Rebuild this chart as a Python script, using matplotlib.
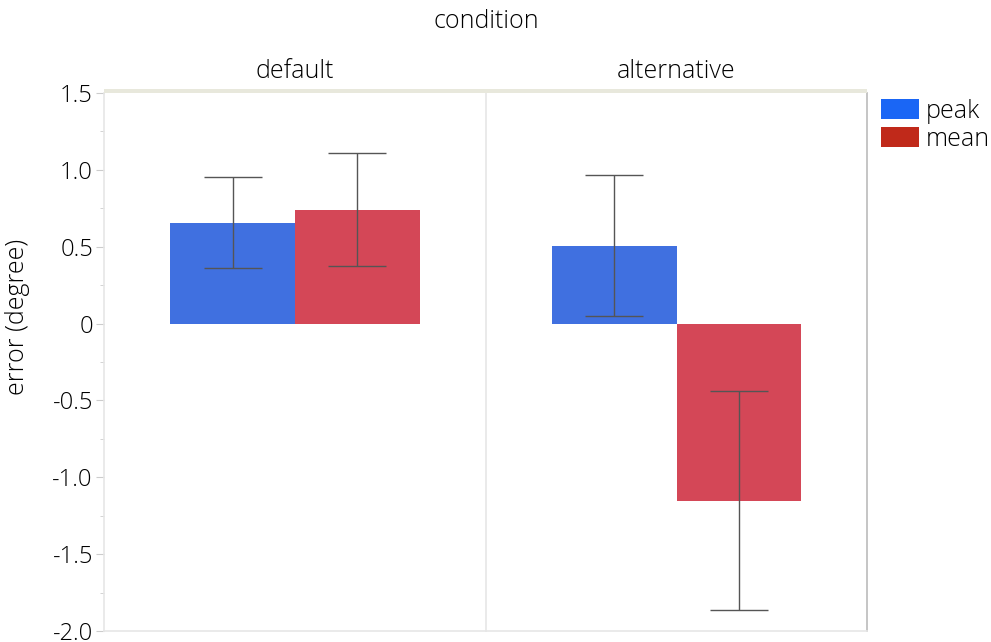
import matplotlib
matplotlib.use("Agg")
import matplotlib.pyplot as plt
from matplotlib.patches import Patch
import numpy as np

plt.rcParams['font.family'] = ['Open Sans', 'DejaVu Sans']
plt.rcParams['font.weight'] = 'light'
plt.rcParams['axes.titleweight'] = 'light'
plt.rcParams['text.color'] = '#000000'
plt.rcParams['axes.labelcolor'] = '#000000'
plt.rcParams['ytick.labelcolor'] = '#000000'

conditions = ["default", "alternative"]
series = ["peak", "mean"]
values = {"default": [0.657, 0.742], "alternative": [0.507, -1.152]}
errors = {"default": [0.295, 0.37], "alternative": [0.458, 0.712]}
bar_colors = ["#4070e0", "#d44757"]
legend_colors = ["#1a66f5", "#c0291a"]
yticks = [1.5, 1.0, 0.5, 0, -0.5, -1.0, -1.5, -2.0]
ytick_labels = ["1.5", "1.0", "0.5", "0", "-0.5", "-1.0", "-1.5", "-2.0"]

W, H = 991, 642
fig = plt.figure(figsize=(W / 100, H / 100), dpi=100)

left_px, right_px, top_px, bot_px = 104, 867, 93, 631
mid_px = 486
bottom = 1 - bot_px / H
height = (bot_px - top_px) / H

FS = 18
TFS = 17
axes = []
for i, cond in enumerate(conditions):
    x0 = left_px if i == 0 else mid_px
    x1 = mid_px if i == 0 else right_px
    ax = fig.add_axes([x0 / W, bottom, (x1 - x0) / W, height])
    axes.append(ax)
    bw = 0.326
    xs = [0.5 - bw / 2, 0.5 + bw / 2]
    for j, s in enumerate(series):
        ax.bar(xs[j], values[cond][j], width=bw, color=bar_colors[j], zorder=2)
        ax.errorbar(xs[j], values[cond][j], yerr=errors[cond][j], fmt='none',
                    ecolor="#555555", elinewidth=1.0, capsize=21, capthick=1.0, zorder=3)
    ax.set_xlim(0, 1)
    ax.set_ylim(-2.0, 1.5)
    ax.set_xticks([])
    for sp in ax.spines.values():
        sp.set_color("#e6e6e6")
        sp.set_linewidth(1.2)
    ax.spines['top'].set_visible(False)
    ax.set_title(cond, fontsize=FS, pad=11, fontweight='light')
    if i == 0:
        ax.set_yticks(yticks)
        ax.set_yticklabels(ytick_labels, fontsize=TFS)
        ax.set_yticks(np.arange(-1.75, 1.5, 0.5), minor=True)
        ax.tick_params(axis='y', which='major', length=6, color="#cccccc", pad=2)
        ax.tick_params(axis='y', which='minor', length=3, color="#cccccc")
        ax.spines['right'].set_visible(False)
    else:
        ax.set_yticks([])
        ax.spines['left'].set_color("#e6e6e6")
        ax.spines['right'].set_color("#bbbbbb")

fig.text(18 / W, 1 - 317 / H, "error (degree)", rotation=90, ha='center', va='center', fontsize=FS)

# top beige strip
strip = fig.add_axes([left_px / W, 1 - top_px / H, (right_px - left_px) / W, 4 / H])
strip.set_facecolor("#e8e8dc")
strip.set_xticks([]); strip.set_yticks([])
for sp in strip.spines.values():
    sp.set_visible(False)

fig.text(486 / W, 1 - 22 / H, "condition", ha='center', va='center', fontsize=FS)

handles = [Patch(facecolor=c, edgecolor='none') for c in legend_colors]
fig.legend(handles, series, loc='upper left', bbox_to_anchor=(878 / W, 1 - 96 / H),
           frameon=False, handlelength=1.52, handleheight=0.88,
           handletextpad=0.28, labelspacing=0.12, borderaxespad=0, borderpad=0.1,
           prop={'size': FS})

fig.savefig("out.png", dpi=100)
